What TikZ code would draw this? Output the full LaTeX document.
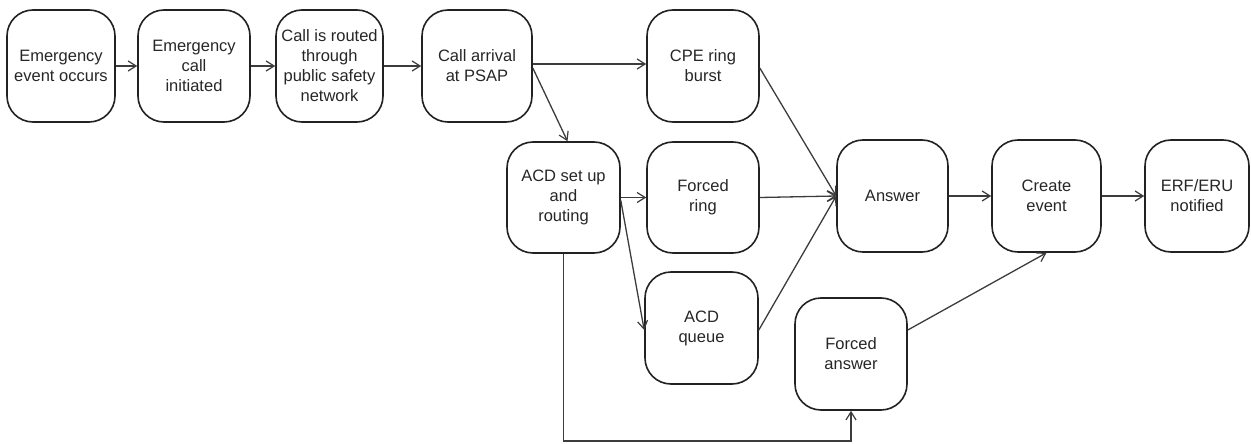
\documentclass[tikz,border=0pt]{standalone}
\usepackage{fontspec}
\setmainfont{Liberation Sans}
\usetikzlibrary{arrows.meta,calc}
\definecolor{boxline}{HTML}{222222}
\definecolor{flowline}{HTML}{3C3C3C}
\tikzset{
  stepbox/.style={draw=boxline, line width=1.6pt, rounded corners=26pt,
    minimum width=110pt, minimum height=112pt, inner sep=0pt, align=center,
    font=\fontsize{16.5}{20}\selectfont, text=black!85},
  flow/.style={draw=flowline, line width=1.3pt,
    -{Straight Barb[length=8pt,width=10pt,line width=1.2pt]}},
}
\begin{document}
\begin{tikzpicture}[x=1pt,y=-1pt]
\useasboundingbox (0,0) rectangle (1251,444);
% upper row
\node[stepbox, minimum width=108pt] (occ) at (61,66) {Emergency\\event occurs};
\node[stepbox, minimum width=112pt] (init) at (194,66) {Emergency\\call\\initiated};
\node[stepbox, minimum width=107pt] (route) at (329.5,66) {Call is routed\\through\\public safety\\network};
\node[stepbox] (arr) at (477,66) {Call arrival\\at PSAP};
\node[stepbox, minimum width=112pt] (cpe) at (703,66) {CPE ring\\burst};
% middle row
\node[stepbox, minimum width=113pt, minimum height=111pt] (acd) at (563.5,197.5) {ACD set up\\and\\routing};
\node[stepbox, minimum width=112pt, minimum height=111pt] (ring) at (703,197.5) {Forced\\ring};
\node[stepbox, minimum width=111pt] (ans) at (892.5,196) {Answer};
\node[stepbox, minimum width=109pt] (cre) at (1046.5,196) {Create\\event};
\node[stepbox, minimum width=104pt] (erf) at (1197,196) {ERF/ERU\\notified};
% lower row
\node[stepbox, minimum width=113pt] (queue) at (701.5,328) {ACD\\queue};
\node[stepbox, minimum width=112pt] (fans) at (851,354) {Forced\\answer};
% connectors
\draw[flow] (occ) -- (init);
\draw[flow] (init) -- (route);
\draw[flow] (route) -- (arr);
\draw[flow] ([yshift=2pt]arr.east) -- ([yshift=2pt]cpe.west);
\draw[flow] ([yshift=-2pt]arr.east) -- ([xshift=4pt]acd.north);
\draw[flow] (acd.east) -- (ring.west);
\draw[flow] ([yshift=-3pt]acd.east) -- ([yshift=-2pt]queue.west);
\draw[flow] (acd.south) |- (563.5,441) -| (fans.south);
\draw[flow] ([yshift=-2pt]cpe.east) -- (ans.west);
\draw[flow] (ring.east) -- (ans.west);
\draw[flow] ([yshift=-2pt]queue.east) -- (ans.west);
\draw[flow] (ans) -- (cre);
\draw[flow] (cre) -- (erf);
\draw[flow] ([yshift=24pt]fans.east) -- (cre.south);
\end{tikzpicture}
\end{document}
